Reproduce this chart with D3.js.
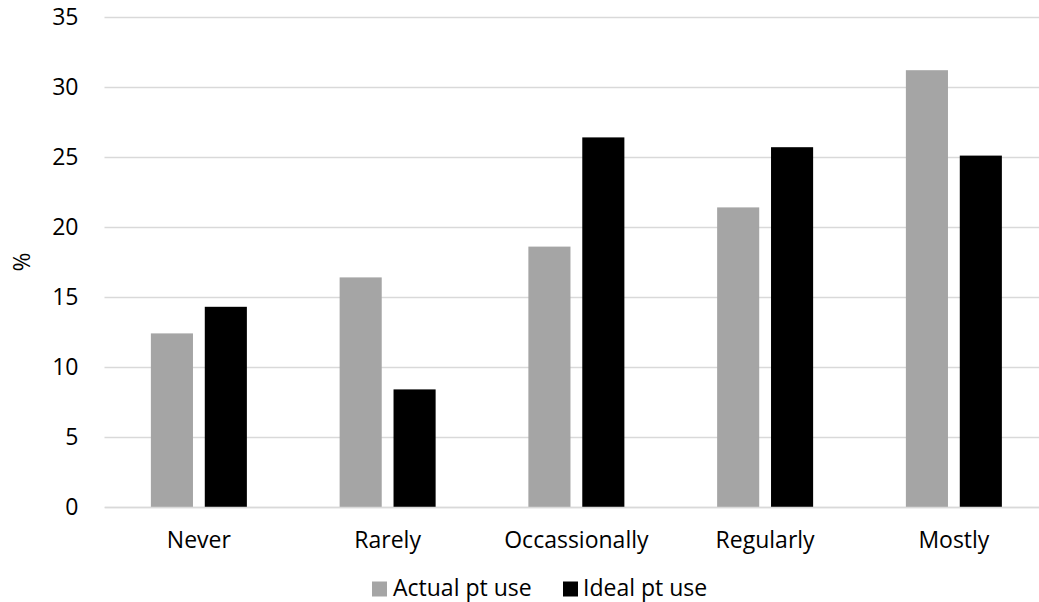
<!DOCTYPE html>
<html>
<head>
<meta charset="utf-8">
<script src="https://cdn.jsdelivr.net/npm/d3@7"></script>
<style>
  html, body { margin: 0; padding: 0; background: #fff; }
  svg { display: block; }
  text { font-family: "Open Sans", "Liberation Sans", sans-serif; fill: #000; }
</style>
</head>
<body>
<svg id="chart" width="1039" height="602"></svg>
<script>
const categories = ["Never", "Rarely", "Occassionally", "Regularly", "Mostly"];
const seriesNames = ["Actual pt use", "Ideal pt use"];
const actualValues = [12.4, 16.4, 18.6, 21.4, 31.2];
const idealValues = [14.3, 8.4, 26.4, 25.7, 25.1];
const yTicks = [0, 5, 10, 15, 20, 25, 30, 35];
const yLabel = "%";
const colors = ["#a5a5a5", "#000000"];

const seriesValues = [actualValues, idealValues];
const data = categories.map((c, i) => ({
  cat: c,
  vals: seriesNames.map((s, j) => ({ series: s, value: seriesValues[j][i] }))
}));

const FS = 23;
const svg = d3.select("#chart");
const plot = { left: 104.5, right: 1048.25, top: 17, bottom: 507 };

const y = d3.scaleLinear().domain([0, 35]).range([plot.bottom, plot.top]);
const x0 = d3.scaleBand().domain(categories).range([plot.left, plot.right])
  .paddingInner(0.4914).paddingOuter(0.2457);
const x1 = d3.scaleBand().domain(seriesNames).range([0, x0.bandwidth()])
  .paddingInner(0.219).paddingOuter(0);
const color = d3.scaleOrdinal().domain(seriesNames).range(colors);

// gridlines
const yAxis = d3.axisLeft(y).tickValues(yTicks).tickSize(-(plot.right - plot.left)).tickPadding(26);
const gy = svg.append("g").attr("transform", `translate(${plot.left},0)`).call(yAxis);
gy.select(".domain").remove();
gy.selectAll(".tick line").attr("stroke", "#d9d9d9").attr("stroke-width", 1.3);
gy.selectAll(".tick text").attr("font-size", FS).attr("fill", "#000")
  .style("font-family", '"Open Sans", "Liberation Sans", sans-serif');

// bars
const groups = svg.append("g").selectAll("g").data(data).join("g")
  .attr("transform", d => `translate(${x0(d.cat)},0)`);
groups.selectAll("rect").data(d => d.vals).join("rect")
  .attr("x", d => x1(d.series))
  .attr("width", x1.bandwidth())
  .attr("y", d => y(d.value))
  .attr("height", d => y(0) - y(d.value))
  .attr("fill", d => color(d.series));

// baseline axis
const xAxis = d3.axisBottom(x0).tickSize(0).tickPadding(25);
const gx = svg.append("g").attr("transform", `translate(0,${plot.bottom})`).call(xAxis);
gx.select(".domain").attr("stroke", "#d9d9d9").attr("stroke-width", 1.3);
gx.selectAll(".tick text").attr("font-size", FS).attr("fill", "#000")
  .style("font-family", '"Open Sans", "Liberation Sans", sans-serif');

// y label
svg.append("text")
  .attr("transform", `translate(30,${(plot.top + plot.bottom) / 2}) rotate(-90)`)
  .attr("text-anchor", "middle")
  .attr("font-size", FS)
  .text(yLabel);

// legend
const legendItems = [
  { name: seriesNames[0], sx: 372, tx: 393 },
  { name: seriesNames[1], sx: 563, tx: 583 }
];
const lg = svg.append("g");
legendItems.forEach(it => {
  lg.append("rect").attr("x", it.sx).attr("y", 581.5).attr("width", 15).attr("height", 15)
    .attr("fill", color(it.name));
  lg.append("text").attr("x", it.tx).attr("y", 596).attr("font-size", FS).text(it.name);
});
</script>
</body>
</html>
